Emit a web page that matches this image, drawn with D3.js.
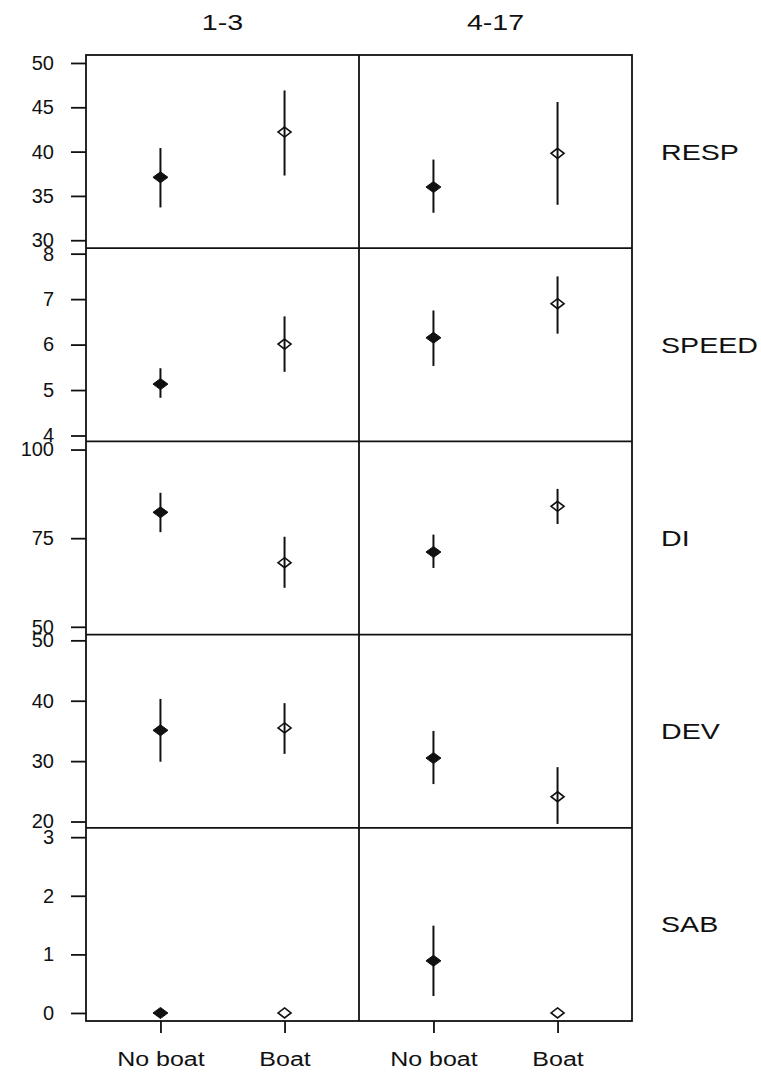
<!DOCTYPE html>
<html>
<head>
<meta charset="utf-8">
<script src="https://cdn.jsdelivr.net/npm/d3@7"></script>
<style>
  html, body { margin: 0; padding: 0; background: #fff; }
  svg { display: block; font-family: "Liberation Sans", Arial, sans-serif; }
</style>
</head>
<body>
<svg id="chart" width="761" height="1072"></svg>
<script>
// ---- data ----
const variables = ["RESP", "SPEED", "DI", "DEV", "SAB"];
const groups = ["1-3", "4-17"];
const treatments = ["No boat", "Boat"];

// rows = variables, columns = groups
const noBoatMean = [[37.1, 36.0], [5.13, 6.15], [82.3, 71.1], [35.1, 30.5], [0, 0.89]];
const noBoatLow  = [[33.7, 33.1], [4.83, 5.53], [76.7, 66.6], [29.9, 26.2], [0, 0.29]];
const noBoatHigh = [[40.4, 39.1], [5.48, 6.75], [87.8, 76.0], [40.3, 35.0], [0, 1.49]];
const boatMean   = [[42.2, 39.8], [6.01, 6.90], [68.1, 84.0], [35.5, 24.1], [0, 0]];
const boatLow    = [[37.3, 34.0], [5.40, 6.24], [61.0, 79.0], [31.2, 19.6], [0, 0]];
const boatHigh   = [[46.9, 45.6], [6.62, 7.50], [75.4, 88.9], [39.6, 29.0], [0, 0]];

const yLimits = [[29.1, 50.9], [3.87, 8.12], [47.8, 102.3], [18.96, 50.95], [-0.137, 3.16]];
const yTicks = [[30, 35, 40, 45, 50], [4, 5, 6, 7, 8], [50, 75, 100], [20, 30, 40, 50], [0, 1, 2, 3]];

// ---- layout ----
(function () {
const svg = d3.select("#chart");
const pLeft = 86, pRight = 632, pTop = 55, pBottom = 1021;
const colW = (pRight - pLeft) / groups.length;
const rowH = (pBottom - pTop) / variables.length;
const ink = "#111";

function xLin(c) {
  return d3.scaleLinear().domain([0.4, 2.6]).range([pLeft + c * colW, pLeft + (c + 1) * colW]);
}
function diamondPath(hw, hh) {
  return `M0,${-hh}L${hw},0L0,${hh}L${-hw},0Z`;
}

variables.forEach((v, r) => {
  const y0 = pTop + r * rowH, y1 = y0 + rowH;
  const y = d3.scaleLinear().domain(yLimits[r]).range([y1, y0]);

  const ax = svg.append("g")
    .attr("transform", `translate(${pLeft},0)`)
    .call(d3.axisLeft(y).tickValues(yTicks[r]).tickSize(15).tickPadding(17).tickFormat(d3.format("d")));
  ax.select(".domain").remove();
  ax.selectAll("line").attr("stroke", ink).attr("stroke-width", 1.8);
  ax.selectAll("text").attr("fill", ink).attr("font-size", 20)
    .attr("font-family", "'Liberation Sans', Arial, sans-serif");

  groups.forEach((g, c) => {
    const x = xLin(c);
    const series = [
      { t: 0, m: noBoatMean[r][c], lo: noBoatLow[r][c], hi: noBoatHigh[r][c], filled: true },
      { t: 1, m: boatMean[r][c], lo: boatLow[r][c], hi: boatHigh[r][c], filled: false }
    ];
    const gp = svg.append("g");
    gp.selectAll("line.err").data(series).join("line")
      .attr("class", "err")
      .attr("x1", d => x(d.t + 1)).attr("x2", d => x(d.t + 1))
      .attr("y1", d => y(d.lo)).attr("y2", d => y(d.hi))
      .attr("stroke", ink).attr("stroke-width", 2);
    gp.selectAll("path.pt").data(series).join("path")
      .attr("class", "pt")
      .attr("transform", d => `translate(${x(d.t + 1)},${y(d.m)})`)
      .attr("d", d => d.filled ? diamondPath(7.5, 5.5) : diamondPath(6.5, 5))
      .attr("fill", d => d.filled ? ink : "none")
      .attr("stroke", ink)
      .attr("stroke-width", d => d.filled ? 1 : 1.6);
  });

  svg.append("text")
    .attr("transform", `translate(661,${(y0 + y1) / 2}) scale(1.3,1)`)
    .attr("dy", "0.36em")
    .attr("font-size", 22)
    .attr("fill", ink)
    .text(v);
});

groups.forEach((g, c) => {
  svg.append("text")
    .attr("transform", `translate(${pLeft + (c + 0.5) * colW},22) scale(1.3,1)`)
    .attr("dy", "0.36em")
    .attr("text-anchor", "middle")
    .attr("font-size", 22)
    .attr("fill", ink)
    .text(g);

  const x = xLin(c);
  const axb = svg.append("g")
    .attr("transform", `translate(0,${pBottom})`)
    .call(d3.axisBottom(d3.scalePoint().domain(treatments).range([x(1), x(2)])).tickSize(12).tickPadding(19));
  axb.select(".domain").remove();
  axb.selectAll("line").attr("stroke", ink).attr("stroke-width", 1.8);
  axb.selectAll("text").attr("fill", ink).attr("font-size", 20)
    .attr("font-family", "'Liberation Sans', Arial, sans-serif")
    .attr("transform", "scale(1.25,1)");
});

const grid = svg.append("g").attr("fill", "none").attr("stroke", ink).attr("stroke-width", 1.8);
grid.append("rect").attr("x", pLeft).attr("y", pTop).attr("width", pRight - pLeft).attr("height", pBottom - pTop);
d3.range(1, groups.length).forEach(c => {
  grid.append("line").attr("x1", pLeft + c * colW).attr("x2", pLeft + c * colW).attr("y1", pTop).attr("y2", pBottom);
});
d3.range(1, variables.length).forEach(r => {
  grid.append("line").attr("x1", pLeft).attr("x2", pRight).attr("y1", pTop + r * rowH).attr("y2", pTop + r * rowH);
});
})();
</script>
</body>
</html>
